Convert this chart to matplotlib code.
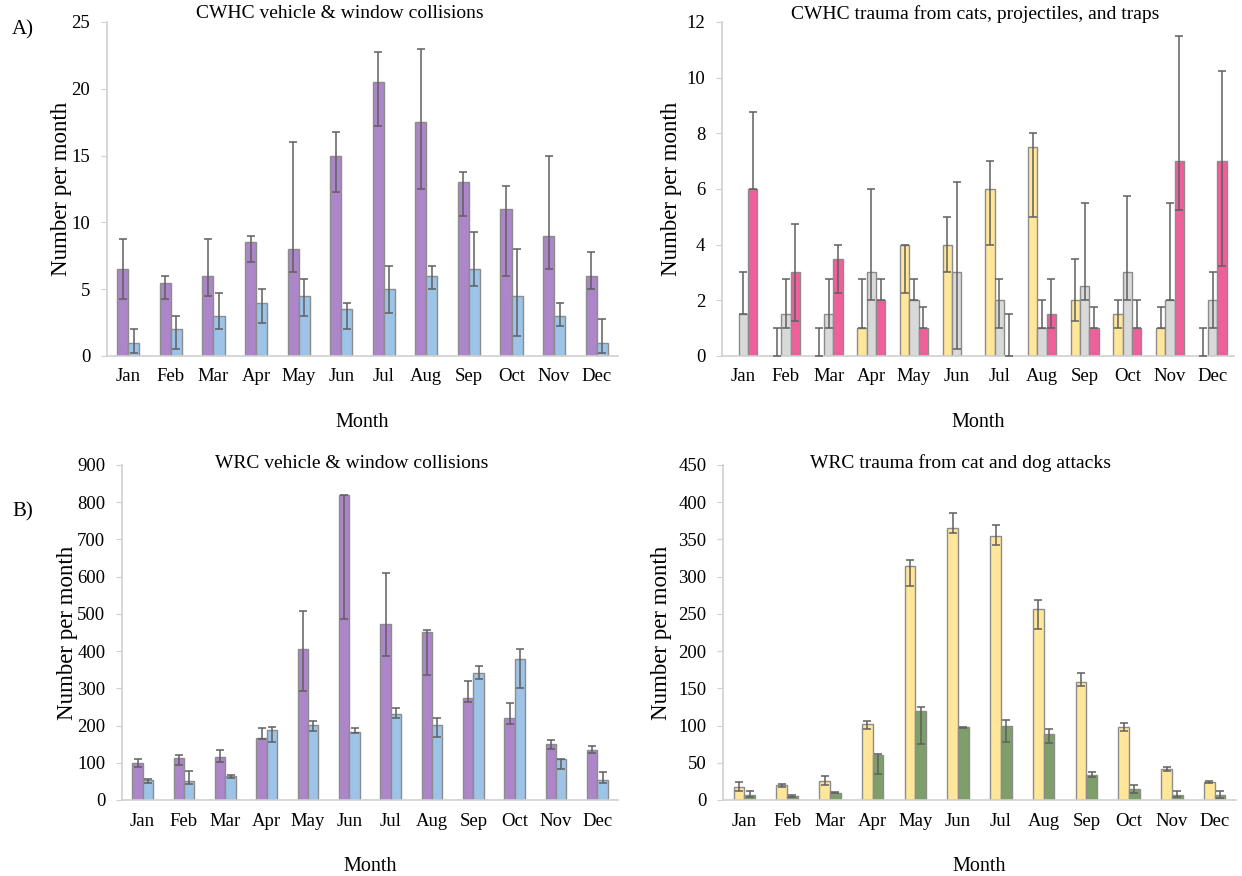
import numpy as np
import matplotlib
matplotlib.use("Agg")
import matplotlib.pyplot as plt

plt.rcParams['font.family'] = ['Liberation Serif', 'DejaVu Serif']

months = ['Jan', 'Feb', 'Mar', 'Apr', 'May', 'Jun', 'Jul', 'Aug', 'Sep', 'Oct', 'Nov', 'Dec']

# CWHC vehicle & window collisions (value, lower end, upper end of bar)
cwhc_vehicle = [6.5, 5.5, 6.0, 8.5, 8.0, 15.0, 20.5, 17.5, 13.0, 11.0, 9.0, 6.0]
cwhc_vehicle_lo = [4.25, 4.25, 4.5, 7.0, 6.25, 12.25, 17.25, 12.5, 10.5, 6.0, 6.5, 5.0]
cwhc_vehicle_hi = [8.75, 6.0, 8.75, 9.0, 16.0, 16.75, 22.75, 23.0, 13.75, 12.75, 15.0, 7.75]
cwhc_window = [1.0, 2.0, 3.0, 4.0, 4.5, 3.5, 5.0, 6.0, 6.5, 4.5, 3.0, 1.0]
cwhc_window_lo = [0.25, 0.5, 2.0, 2.5, 3.0, 2.0, 3.25, 5.0, 5.25, 1.5, 2.25, 0.25]
cwhc_window_hi = [2.0, 3.0, 4.75, 5.0, 5.75, 4.0, 6.75, 6.75, 9.25, 8.0, 4.0, 2.75]

# CWHC trauma from cats, projectiles, traps
cwhc_cats = [0, 0, 0, 1.0, 4.0, 4.0, 6.0, 7.5, 2.0, 1.5, 1.0, 0]
cwhc_cats_lo = [0, 0, 0, 1.0, 2.25, 3.0, 4.0, 5.0, 1.25, 1.0, 1.0, 0]
cwhc_cats_hi = [0, 1.0, 1.0, 2.75, 4.0, 5.0, 7.0, 8.0, 3.5, 2.0, 1.75, 1.0]
cwhc_proj = [1.5, 1.5, 1.5, 3.0, 2.0, 3.0, 2.0, 1.0, 2.5, 3.0, 2.0, 2.0]
cwhc_proj_lo = [1.5, 1.0, 1.0, 2.0, 2.0, 0.25, 1.0, 1.0, 2.0, 2.0, 2.0, 1.0]
cwhc_proj_hi = [3.0, 2.75, 2.75, 6.0, 2.75, 6.25, 2.75, 2.0, 5.5, 5.75, 5.5, 3.0]
cwhc_traps = [6.0, 3.0, 3.5, 2.0, 1.0, 0, 0, 1.5, 1.0, 1.0, 7.0, 7.0]
cwhc_traps_lo = [6.0, 1.25, 2.25, 2.0, 1.0, 0, 0, 1.0, 1.0, 1.0, 5.25, 3.25]
cwhc_traps_hi = [8.75, 4.75, 4.0, 2.75, 1.75, 0, 1.5, 2.75, 1.75, 2.0, 11.5, 10.25]

# WRC vehicle & window collisions
wrc_vehicle = [100, 112, 115, 167, 405, 820, 473, 452, 273, 220, 150, 135]
wrc_vehicle_lo = [88, 94, 101, 163, 293, 485, 387, 337, 262, 204, 138, 125]
wrc_vehicle_hi = [110, 121, 134, 193, 507, 820, 609, 456, 321, 261, 162, 145]
wrc_window = [55, 52, 65, 187, 202, 183, 230, 202, 342, 378, 110, 55]
wrc_window_lo = [45, 43, 59, 155, 186, 179, 221, 170, 326, 302, 83, 45]
wrc_window_hi = [57, 77, 67, 197, 212, 194, 248, 221, 359, 405, 110, 75]

# WRC trauma from cat and dog attacks
wrc_cat = [18, 20, 25, 102, 315, 365, 355, 256, 158, 98, 42, 24]
wrc_cat_lo = [12.5, 18, 20.5, 95, 288, 358, 342, 230, 153, 93, 39, 23]
wrc_cat_hi = [24.5, 21, 32, 106, 323, 386, 370, 269, 170, 103, 45, 26]
wrc_dog = [7, 6, 10, 61, 120, 98, 100, 88, 34, 15, 7, 7]
wrc_dog_lo = [3.5, 4.5, 9, 35, 75, 97, 78, 77, 31, 10, 3.5, 3]
wrc_dog_hi = [12.5, 7, 11, 62, 125, 98, 107, 96, 37, 20, 11.5, 12]

purple = '#AC86C8'
blue = '#9DC3E6'
yellow = '#FFE699'
grey = '#D9D9D9'
pink = '#EF5F9A'
green = '#7F9F6A'

W, H = 1242, 876
fig = plt.figure(figsize=(W / 100, H / 100), dpi=100)


def px_axes(left, right, top, bottom):
    return fig.add_axes([left / W, 1 - bottom / H, (right - left) / W, (bottom - top) / H])


def draw_panel(ax, series, width, ymax, ystep, title, title_x, title_y, ylab_x):
    x = np.arange(len(months))
    n = len(series)
    for i, (vals, lo, hi, col) in enumerate(series):
        vals = np.array(vals, float)
        lo = np.array(lo, float)
        hi = np.array(hi, float)
        pos = x + (i - (n - 1) / 2) * width
        nz = vals > 0
        ax.bar(pos[nz], vals[nz], width=width, color=col, edgecolor='#8c8c8c',
               linewidth=1.0, zorder=2)
        # skip empty months with no error range at all
        keep = hi > 0
        yerr = [(vals - lo)[keep], (hi - vals)[keep]]
        ax.errorbar(pos[keep], vals[keep], yerr=yerr, fmt='none', ecolor='#5f5f5f',
                    elinewidth=1.1, capsize=3, capthick=1.1, zorder=3)
    ax.set_xlim(-0.5, len(months) - 0.5)
    ax.set_ylim(0, ymax)
    ax.set_yticks(np.arange(0, ymax + ystep / 2, ystep))
    ax.set_xticks(x)
    ax.set_xticklabels(months)
    for s in ['top', 'right']:
        ax.spines[s].set_visible(False)
    for s in ['left', 'bottom']:
        ax.spines[s].set_color('#d0d0d0')
        ax.spines[s].set_linewidth(1.2)
    ax.tick_params(axis='x', length=0, pad=9, labelsize=13.5)
    ax.tick_params(axis='y', length=4, color='#d0d0d0', pad=8, labelsize=13.5)
    ax.set_xlabel('Month', fontsize=14.5, labelpad=20)
    ax.set_ylabel('Number per month', fontsize=16.5)
    ax.yaxis.set_label_coords(ylab_x, 0.5)
    fig.text(title_x / W, 1 - title_y / H, title, fontsize=14, ha='center', va='center')


ax1 = px_axes(107, 618, 22, 356)
draw_panel(ax1, [(cwhc_vehicle, cwhc_vehicle_lo, cwhc_vehicle_hi, purple),
                 (cwhc_window, cwhc_window_lo, cwhc_window_hi, blue)],
           0.26, 25, 5, 'CWHC vehicle & window collisions', 340, 14, -0.068)

ax2 = px_axes(722, 1234, 22, 356)
draw_panel(ax2, [(cwhc_cats, cwhc_cats_lo, cwhc_cats_hi, yellow),
                 (cwhc_proj, cwhc_proj_lo, cwhc_proj_hi, grey),
                 (cwhc_traps, cwhc_traps_lo, cwhc_traps_hi, pink)],
           0.22, 12, 2, 'CWHC trauma from cats, projectiles, and traps', 975, 14, -0.078)

ax3 = px_axes(122, 618, 465, 800)
draw_panel(ax3, [(wrc_vehicle, wrc_vehicle_lo, wrc_vehicle_hi, purple),
                 (wrc_window, wrc_window_lo, wrc_window_hi, blue)],
           0.25, 900, 100, 'WRC vehicle & window collisions', 352, 464, -0.088)

ax4 = px_axes(723, 1236, 465, 800)
draw_panel(ax4, [(wrc_cat, wrc_cat_lo, wrc_cat_hi, yellow),
                 (wrc_dog, wrc_dog_lo, wrc_dog_hi, green)],
           0.25, 450, 50, 'WRC trauma from cat and dog attacks', 961, 463, -0.099)

fig.text(12 / W, 1 - 30 / H, 'A)', fontsize=15, ha='left', va='center')
fig.text(12 / W, 1 - 512 / H, 'B)', fontsize=15, ha='left', va='center')

fig.savefig('out.png', dpi=100, facecolor='white')
